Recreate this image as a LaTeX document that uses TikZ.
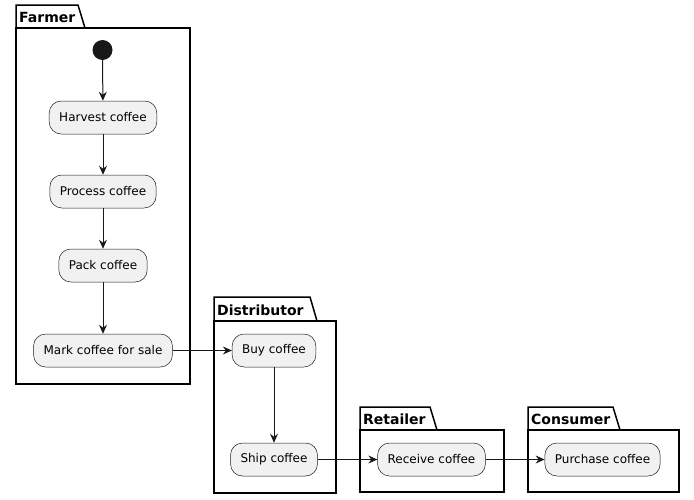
\documentclass[tikz,border=0pt]{standalone}
\usepackage{fontspec}
\setmainfont{DejaVu Sans}
\usepackage{tikz}
\usetikzlibrary{positioning}
\usetikzlibrary{calc}
\usetikzlibrary{arrows.meta}
\definecolor{actfill}{HTML}{F1F1F1}
\definecolor{actline}{HTML}{181818}
\tikzset{>={Stealth[length=9pt,width=8pt,inset=3pt]}}
\tikzset{
  actbox/.style={draw=actline, line width=0.5pt, fill=actfill,
    rounded corners=12pt, minimum height=33pt, inner xsep=10pt,
    font=\fontsize{12}{14}\selectfont},
  startdot/.style={circle, fill=actline, minimum size=20pt, inner sep=0pt},
  flow/.style={->, draw=actline, line width=1pt},
  pkg/.style={line width=1.5pt, line join=miter},
  pkgname/.style={anchor=west, inner sep=0pt, font=\fontsize{14}{16}\selectfont\bfseries}
}

\begin{document}
\begin{tikzpicture}[x=1pt,y=-1pt]
\useasboundingbox (0,0) rectangle (694,499);

% ================= Packages =================
\foreach \xa/\xt/\xb/\ya/\yb/\yc/\name/\lbl in {
  16/78/190/5/28/384/farmer/Farmer,
  214/310/336/297/321/493/distributor/Distributor,
  360/430/504/407/430/492/retailer/Retailer,
  528/613/679/407/430/492/consumer/Consumer
}{
  \draw[pkg] (\xa,\yb) -- (\xa,\ya) -- (\xt,\ya) -- ($(\xt,\yb)+(7,0)$);
  \draw[pkg] (\xa,\yb) rectangle (\xb,\yc);
  \node[pkgname] (\name) at ({\xa+3},{(\ya+\yb)/2+1}) {\lbl};
}

% ================= Farmer =================
\node[startdot] (start) at (102.5,50) {};
\node[actbox] (harvest) at (103,117.5) {Harvest coffee};
\node[actbox] (process) at (103,191.5) {Process coffee};
\node[actbox] (pack)    at (103,265.5) {Pack coffee};
\node[actbox] (mark)    at (103,350.5) {Mark coffee for sale};

% ================= Distributor =================
\node[actbox] (buy)  at (274,350.5) {Buy coffee};
\node[actbox] (ship) at (274,459.5) {Ship coffee};

% ================= Retailer / Consumer =================
\node[actbox] (receive)  at (431.5,459.5) {Receive coffee};
\node[actbox] (purchase) at (602.5,459.5) {Purchase coffee};

% Flows
\draw[flow] (start) -- (harvest);
\draw[flow] (harvest) -- (process);
\draw[flow] (process) -- (pack);
\draw[flow] (pack) -- (mark);
\draw[flow] (mark) -- (buy);
\draw[flow] (buy) -- (ship);
\draw[flow] (ship) -- (receive);
\draw[flow] (receive) -- (purchase);
\end{tikzpicture}
\end{document}
